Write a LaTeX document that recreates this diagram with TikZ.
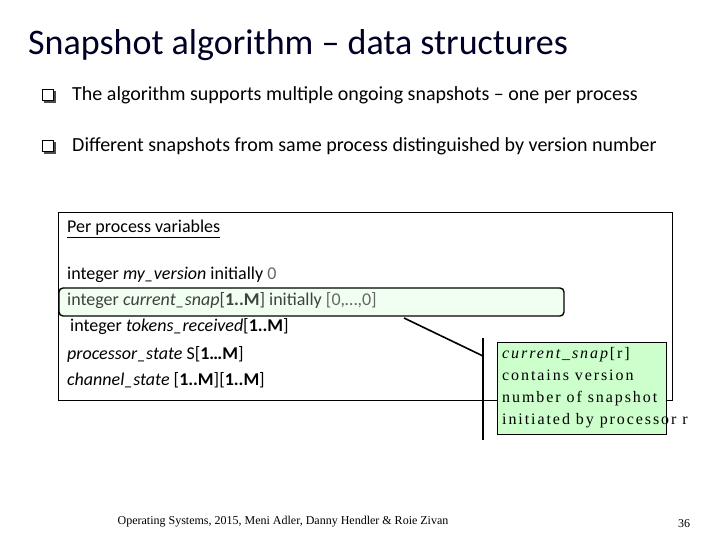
\documentclass[tikz,border=0pt]{standalone}
\usepackage{fontspec}
\setmainfont{Carlito}
\newfontfamily\tnr[LetterSpace=12]{Liberation Serif}
\newfontfamily\tnrf{Liberation Serif}
\begin{document}
\begin{tikzpicture}[x=1pt,y=-1pt,
  bul/.style={anchor=west,font=\fontsize{20}{24}\selectfont},
  var/.style={anchor=west,font=\fontsize{18}{21}\selectfont},
  ln/.style={line width=1.6pt}]
\useasboundingbox (0,0) rectangle (720,540);
\node[anchor=west,inner sep=0pt,font=\fontsize{36}{40}\selectfont,text=black!85!blue] (title) at (28,45) {Snapshot algorithm -- data structures};
\foreach \n/\y/\t in {b1/95/The algorithm supports multiple ongoing snapshots -- one per process,
                     b2/146/Different snapshots from same process distinguished by version number}{
  \fill[black!70] (44,\y-4) rectangle (56,\y+8);
  \draw[fill=white,line width=0.6pt] (42,\y-6) rectangle (53,\y+5);
  \node[bul,inner sep=0pt] (\n) at (72,\y) {\t};
}
\draw[line width=0.8pt,fill=white] (58,212) rectangle (672,400);
\draw[rounded corners=4pt,line width=1.4pt,fill=green!6] (59,288) rectangle (564,316);
\node[var,inner sep=0pt] (pv) at (67,229) {\underline{Per process variables}};
\node[var,inner sep=0pt] (v1) at (67,275) {integer \emph{my\_version} initially {\color{black!60}0}};
\node[var,inner sep=0pt,text=black!75] (v2) at (67,301) {integer \emph{current\_snap}[\textbf{1..M}] initially {\color{black!60}[0,…,0]}};
\node[var,inner sep=0pt] (v3) at (70,327) {integer \emph{tokens\_received}[\textbf{1..M}]};
\node[var,inner sep=0pt] (v4) at (67,354) {\emph{processor\_state} S[\textbf{1…M}]};
\node[var,inner sep=0pt] (v5) at (67,380) {\emph{channel\_state} [\textbf{1..M}][\textbf{1..M}]};
\node[draw,line width=1.4pt,fill=green!20,minimum width=169pt,minimum height=92pt,anchor=north west,inner sep=4pt] (call) at (497,342) {};
\node[anchor=north west,align=left,inner sep=0pt,font=\tnr\fontsize{16}{19}\selectfont] (ct) at (502,347) {\emph{current\_snap}[r]\\[3pt]contains version\\[3pt]number of snapshot\\[3pt]initiated by processor r};
\coordinate (lt) at (483,338);
\coordinate (lb) at (483,440);
\coordinate (d0) at (404,318);
\coordinate (d1) at (483,356);
\draw[ln] (lt) -- (lb);
\draw[ln] (d0) -- (d1);
\node[font=\tnrf\fontsize{12}{14}\selectfont] (foot) at (283,522) {Operating Systems, 2015, Meni Adler, Danny Hendler \& Roie Zivan};
\node[font=\tnrf\fontsize{12}{14}\selectfont] (pg) at (684,524) {36};
\end{tikzpicture}
\end{document}
